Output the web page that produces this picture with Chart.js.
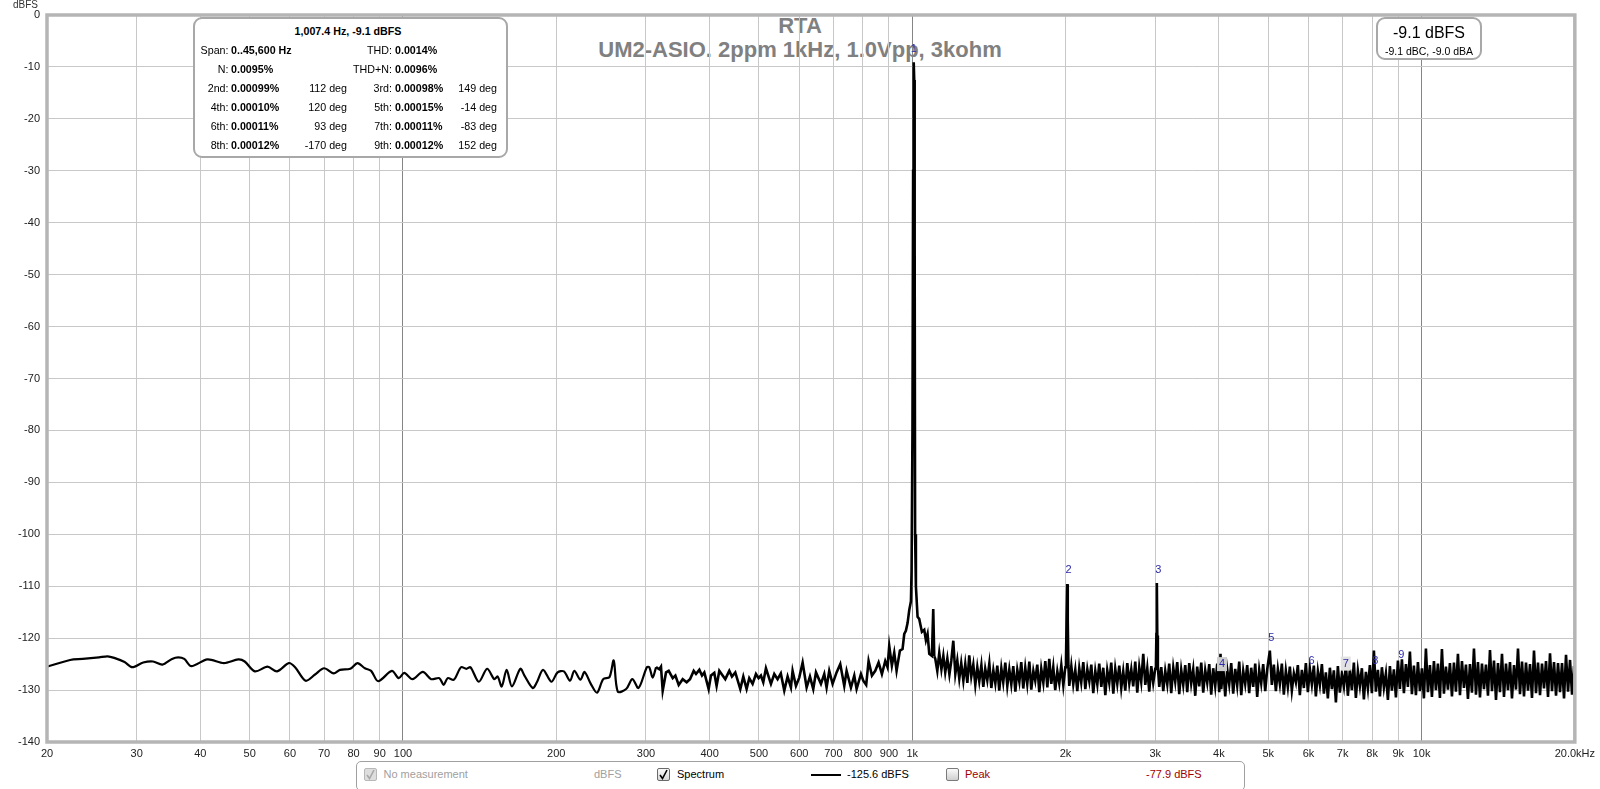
<!DOCTYPE html>
<html><head><meta charset="utf-8">
<script src="https://cdn.jsdelivr.net/npm/chart.js@4.4.1/dist/chart.umd.min.js"></script>
<style>
html,body{margin:0;padding:0;background:#fff;}
#wrap{position:relative;width:1600px;height:789px;overflow:hidden;font-family:'Liberation Sans',Arial,sans-serif;}
#c{position:absolute;left:0;top:0;z-index:1;}
.t{position:absolute;white-space:nowrap;z-index:3;}
.tb{position:absolute;white-space:nowrap;z-index:0;}
.box{position:absolute;box-sizing:border-box;background:#fff;z-index:2;}
.cb{position:absolute;box-sizing:border-box;width:13px;height:13px;border-radius:2px;z-index:3;}
</style></head><body>
<div id="wrap">
<div class="tb" style="left:0;width:1600px;text-align:center;top:15.4px;font:bold 22px/22px 'Liberation Sans',Arial,sans-serif;color:#808080">RTA</div>
<div class="tb" style="left:0;width:1600px;text-align:center;top:38.7px;font:bold 22px/22px 'Liberation Sans',Arial,sans-serif;color:#808080">UM2-ASIO. 2ppm 1kHz, 1.0Vpp, 3kohm</div>
<canvas id="c" width="1600" height="789"></canvas>
<div class="t" style="left:13px;top:0px;font:10px/10px 'Liberation Sans',Arial,sans-serif;color:#333">dBFS</div>
<div class="box" style="left:193px;top:17px;width:315px;height:141px;border:2.5px solid #a8a8a8;border-radius:9px;"></div>
<div id="info"></div>
<div class="box" style="left:1376px;top:17px;width:106px;height:43px;border:2.5px solid #a8a8a8;border-radius:9px;"></div>
<div class="t" style="left:1329px;width:200px;text-align:center;top:25px;font:16px/16px 'Liberation Sans',Arial,sans-serif;color:#000">-9.1 dBFS</div>
<div class="t" style="left:1329px;width:200px;text-align:center;top:45.6px;font:10.5px/10.5px 'Liberation Sans',Arial,sans-serif;color:#000">-9.1 dBC, -9.0 dBA</div>
<div class="box" style="left:356px;top:761px;width:889px;height:30px;border:1px solid #a0a0a0;border-radius:5px;"></div>
<div class="cb" style="left:364px;top:768px;background:#dedede;border:1px solid #b8b8b8;"><svg width="11" height="11" style="position:absolute;left:0;top:0"><path d="M2 6 L4.5 9.5 L9 1" stroke="#a8a8a8" stroke-width="1.6" fill="none"/></svg></div>
<div class="t" style="left:383.5px;top:768.7px;font:11px/11px 'Liberation Sans',Arial,sans-serif;color:#a0a0a0">No measurement</div>
<div class="t" style="left:594px;top:768.7px;font:11px/11px 'Liberation Sans',Arial,sans-serif;color:#a0a0a0">dBFS</div>
<div class="cb" style="left:657px;top:768px;background:linear-gradient(#fafafa,#d8d8d8);border:1px solid #6a6a6a;"><svg width="11" height="11" style="position:absolute;left:0;top:0"><path d="M2 6 L4.5 9.5 L9 1" stroke="#000" stroke-width="1.6" fill="none"/></svg></div>
<div class="t" style="left:677px;top:768.7px;font:11px/11px 'Liberation Sans',Arial,sans-serif;color:#000">Spectrum</div>
<div class="t" style="left:811px;top:774px;width:30px;height:2px;background:#000"></div>
<div class="t" style="left:847px;top:768.7px;font:11px/11px 'Liberation Sans',Arial,sans-serif;color:#000">-125.6 dBFS</div>
<div class="cb" style="left:946px;top:768px;background:linear-gradient(#fafafa,#cfcfcf);border:1px solid #7a7a7a;"></div>
<div class="t" style="left:965px;top:768.7px;font:11px/11px 'Liberation Sans',Arial,sans-serif;color:#a00000">Peak</div>
<div class="t" style="left:1146px;top:768.7px;font:11px/11px 'Liberation Sans',Arial,sans-serif;color:#a00000">-77.9 dBFS</div>
</div>
<script>
// ---------- data ----------
const freqLow=[20,22.2,23.5,25.3,26.3,27.1,28.4,29.4,30.9,32.3,33.7,35.2,36.2,37.2,38.4,41.3,44.5,47.5,48.9,51.2,54.2,56.6,59.7,61.4,64.4,67.2,70.0,73.1,75.2,78.8,81.4,84.2,86.6,89.4,95.1,98.1,100.6,104.4,109.4,113.6,117.9,120.2,122.4,125.9,130.0,133.2,135.7,140.9,146.3,151.1,153.4,156.3,159.8,163.7,170.0,173.2,179.8,183.2,188.4,195.6,201.2,207.0,212.9,217.0,223.1,227.3,233.8,240.5,247.3,254.4,259.3,264.1,274.3,282.1,290.1,301.2,304.6,309.2,314.0];
const dbLow=[-125.5,-124.2,-124.0,-123.7,-123.5,-123.8,-124.6,-125.6,-124.7,-124.5,-125.1,-124.0,-123.7,-124.0,-125.4,-124.1,-124.8,-124.1,-124.5,-126.4,-125.5,-126.4,-124.8,-125.6,-128.2,-127.0,-125.8,-126.8,-126.1,-125.9,-124.8,-125.8,-126.3,-128.3,-126.3,-127.7,-126.7,-127.9,-126.5,-127.9,-127.7,-129.0,-127.7,-128.0,-125.6,-125.9,-125.6,-128.4,-125.9,-127.9,-127.4,-129.3,-126.1,-129.3,-125.9,-127.2,-129.6,-128.5,-126.1,-128.4,-126.6,-126.4,-128.2,-126.3,-128.0,-126.5,-128.8,-130.5,-127.9,-127.5,-124.3,-130.3,-129.8,-127.9,-129.6,-125.6,-125.6,-127.6,-125.6];

const freqMid=[318.7,321.1,323.6,328.5,332.5,338.6,342.7,347.9,354.2,360.6,366.1,372.3,376.2,381.9,386.5,390.6,398.3,402.5,408.6,412.9,418.0,424.3,429.4,437.3,442.6,449.3,459.6,465.9,472.9,478.6,485.9,493.3,499.2,504.5,509.9,516.1,527.9,535.9,544.0,552.0,560.7,569.2,577.8,582.2,591.1,600.0,609.2,620.3,629.7,639.2,647.1,661.8,671.8,678.9,687.1,697.6,710.3,722.2,735.4,743.2,757.9,769.4,777.6,793.0,801.4,812.0,820.9,833.4,846.0,858.9,871.9,885.1,894.4,901.2,912.0,921.8,931.6,945.7,957.2];
const dbMid=[-126.0,-125.5,-130.1,-126.6,-126.3,-127.7,-127.2,-129.0,-127.9,-128.5,-127.9,-126.3,-126.9,-126.1,-127.2,-126.6,-129.8,-127.2,-126.7,-129.2,-126.3,-127.2,-127.9,-126.3,-127.4,-126.6,-129.8,-127.4,-129.8,-127.7,-128.8,-126.9,-127.7,-127.2,-128.5,-125.8,-128.8,-126.9,-127.9,-126.8,-130.1,-127.4,-129.5,-126.3,-129.2,-127.6,-124.7,-129.5,-127.4,-129.8,-126.6,-128.8,-126.9,-129.5,-126.3,-128.8,-126.6,-125.0,-129.2,-126.3,-129.5,-127.2,-129.8,-126.9,-128.2,-129.0,-124.4,-127.2,-126.3,-124.7,-126.9,-124.4,-125.6,-121.5,-125.3,-122.8,-126.3,-122.4,-122.1];

const freqPeak=[964.5,971.6,979.1,986.5,994.1,997.0,1001.0,1004.0,1006.0,1007.4,1009.0,1011.0,1013.0,1016.7,1024.4,1032.0,1044.7,1055.8,1063.7,1071.7,1080.0,1093.0,1099.6,1104.6];
const dbPeak=[-119.2,-118.6,-117.1,-114.6,-112.9,-107.0,-80.0,-30.0,-12.0,-9.1,-12.5,-45.0,-100.0,-110.0,-115.9,-116.3,-118.8,-118.4,-120.4,-119.2,-123.0,-123.4,-114.4,-123.5];

const freqHigh=[1110,1120,1130,1141,1151,1161,1172,1183,1193,1204,1215,1226,1237,1248,1260,1271,1283,1294,1306,1318,1330,1342,1354,1367,1379,1391,1404,1417,1430,1443,1456,1469,1482,1496,1509,1523,1537,1551,1565,1579,1594,1608,1623,1637,1652,1667,1682,1698,1713,1729,1744,1760,1776,1792,1809,1825,1842,1858,1875,1892,1909,1927,1944,1962,1980,1998,
2004,2010,2015,2020,2026,
2034,2053,2071,2090,2109,2128,2147,2167,2187,2207,2227,2247,2267,2288,2309,2329,2351,2372,2394,2415,2437,2459,2482,2504,2527,2550,2573,2596,2620,2644,2668,2692,2716,2741,2766,2791,2816,2842,2868,2894,2920,2947,2973,3000,
3010,3016,3022,3028,3036,
3055,3083,3111,3139,3168,3196,3225,3255,3284,3314,3344,3374,3405,3436,3467,3499,3530,3562,3595,3627,3660,3694,3727,3761,3795,3830,3864,3899,3935,3971,4007,4030,4043,4080,4117,4154,4192,4230,4268,4307,4346,4386,4426,4466,4506,4547,4588,4630,4672,4715,4757,4801,4844,4888,4933,4977];
const dbHigh=[-124.0,-126.3,-122.8,-126.0,-123.4,-126.6,-123.9,-127.0,-124.4,-120.5,-126.9,-124.3,-127.8,-124.8,-128.2,-125.0,-128.6,-123.3,-127.4,-125.1,-129.0,-125.6,-128.3,-125.2,-129.4,-125.9,-128.1,-124.9,-129.6,-126.2,-128.7,-125.3,-130.1,-125.8,-128.5,-124.7,-129.2,-126.0,-128.9,-125.4,-130.3,-126.1,-128.4,-124.6,-129.7,-125.7,-128.8,-124.5,-129.9,-126.3,-128.2,-125.1,-130.4,-125.9,-128.6,-124.4,-129.5,-124.0,-128.8,-125.6,-130.0,-126.4,-128.7,-125.2,-129.1,-125.6,
-124.5,-115.4,-109.6,-116.5,-125.3,
-129.2,-125.4,-128.9,-126.1,-130.2,-125.8,-128.5,-124.6,-129.8,-126.0,-128.3,-125.1,-130.6,-126.3,-128.9,-124.9,-129.4,-125.7,-131.0,-126.2,-128.6,-124.7,-130.7,-125.9,-128.8,-125.3,-129.6,-126.4,-130.1,-124.8,-128.7,-126.0,-129.3,-124.5,-130.5,-125.6,-128.4,-123.0,-129.0,-125.8,-130.3,-125.4,-128.6,-125.9,
-124.8,-119.2,-109.4,-119.5,-125.5,
-129.4,-125.6,-130.2,-126.3,-128.9,-124.9,-130.6,-125.7,-128.4,-124.6,-130.8,-126.1,-129.0,-125.2,-130.4,-124.8,-128.7,-126.0,-131.1,-125.5,-129.3,-124.7,-130.5,-126.2,-128.6,-125.0,-130.9,-125.8,-129.2,-124.9,-130.4,-123.0,-129.8,-125.6,-131.2,-126.0,-128.9,-124.8,-130.7,-125.9,-129.1,-124.5,-131.0,-126.3,-128.8,-125.2,-130.6,-125.7,-129.4,-124.9,-131.3,-126.1,-128.7,-125.0,-130.2,-126.0];

const freqTop=[5037,5083,5129,5176,5223,5270,5318,5366,5415,5464,5514,5564,5615,5666,5717,5769,5822,5875,5928,5982,6036,6091,6146,6202,6259,6315,6373,6431,6489,6548,6608,6668,6728,6790,6851,6913,6976,7040,7104,7168,7233,7299,7365,7432,7500,7568,7637,7706,7776,7847,7918,7990,8063,8136,8210,8285,8360,8436,8513,8590,8668,8747,8826,8907,8988,9069,9152,9235,9319,9403,9489,9575,9662,9750,9839,9928,10018,10109,10201,10294,10388,10482,10577,10673,10770,10868,10967,11067,11167,11269,11371,11475,11579,11684,11790,11898,12006,12115,12225,12336,12448,12562,12676,12791,12907,13025,13143,13263,13383,13505,13628,13752,13877,14003,14130,14258,14388,14519,14651,14784,14918,15054,15191,15329,15468,15609,15751,15894,16038,16184,16331,16479,16629,16780,16933,17087,17242,17399,17557,17717,17878,18040,18204,18370,18537,18705,18875,19047,19220,19395,19571,19749,19928,20000];
const dbTop=[-122.4,-129.0,-125.1,-130.2,-126.0,-128.8,-124.9,-130.9,-126.3,-129.4,-125.5,-130.1,-126.8,-128.5,-125.2,-131.0,-126.1,-129.6,-124.8,-130.4,-125.9,-128.9,-125.3,-131.2,-126.4,-129.0,-125.0,-130.7,-126.6,-131.6,-125.7,-129.8,-126.2,-132.4,-125.4,-130.5,-126.9,-129.3,-125.1,-131.1,-126.0,-130.0,-124.7,-131.5,-126.3,-129.2,-125.8,-131.8,-126.5,-129.7,-125.2,-130.6,-122.4,-130.3,-126.1,-131.2,-125.6,-129.5,-126.8,-131.9,-125.4,-130.1,-126.0,-131.4,-124.3,-129.8,-124.1,-130.6,-125.0,-129.4,-122.6,-130.8,-125.3,-131.0,-124.6,-130.2,-125.8,-131.6,-122.0,-130.4,-125.2,-131.3,-124.4,-130.0,-124.9,-131.5,-122.1,-130.7,-125.5,-129.9,-124.8,-131.2,-124.7,-130.3,-123.0,-131.0,-124.4,-129.6,-125.1,-131.7,-125.0,-130.5,-122.0,-130.9,-124.6,-131.4,-124.9,-129.8,-125.1,-131.1,-122.3,-130.2,-124.3,-131.9,-124.8,-130.4,-123.0,-131.3,-124.9,-130.0,-124.6,-131.6,-125.2,-129.9,-122.0,-130.8,-124.5,-131.2,-124.7,-130.1,-125.0,-131.5,-122.4,-130.6,-124.7,-131.0,-124.9,-129.7,-124.4,-131.3,-122.9,-130.2,-124.6,-131.1,-124.8,-130.4,-124.8,-131.6,-123.2,-130.3,-124.2,-130.9,-125.4,-127.5];

const xTickValues=[20,30,40,50,60,70,80,90,100,200,300,400,500,600,700,800,900,1000,2000,3000,4000,5000,6000,7000,8000,9000,10000,20000];
const xTickLabels=['20','30','40','50','60','70','80','90','100','200','300','400','500','600','700','800','900','1k','2k','3k','4k','5k','6k','7k','8k','9k','10k','20.0kHz'];
const xMajorTicks=[100,1000,10000];
const yTickValues=[-140,-130,-120,-110,-100,-90,-80,-70,-60,-50,-40,-30,-20,-10,0];
const yTickLabels=['-140','-130','-120','-110','-100','-90','-80','-70','-60','-50','-40','-30','-20','-10','0'];

const harmonicFreqs=[1007.4,2014.8,3022.2,4029.6,5037.0,6044.4,7051.8,8059.2,9066.6];
const harmonicLabelDb=[-6.5,-106.9,-106.8,-125.0,-119.9,-124.3,-124.9,-124.3,-123.3];
const harmonicNames=['1','2','3','4','5','6','7','8','9'];
const harmonicBg=['','','','#cdcdcd','','','#e2e2e2','',''];

const infoRows=[
 ['Span:','0..45,600 Hz','','THD:','0.0014%',''],
 ['N:','0.0095%','','THD+N:','0.0096%',''],
 ['2nd:','0.00099%','112 deg','3rd:','0.00098%','149 deg'],
 ['4th:','0.00010%','120 deg','5th:','0.00015%','-14 deg'],
 ['6th:','0.00011%','93 deg','7th:','0.00011%','-83 deg'],
 ['8th:','0.00012%','-170 deg','9th:','0.00012%','152 deg']
];

(function(){
  const info=document.getElementById('info');
  const F="'Liberation Sans',Arial,sans-serif";
  let h='<div class="t" style="left:248px;width:200px;text-align:center;top:25.6px;font:bold 10.7px/10.7px '+F+';color:#000">1,007.4 Hz, -9.1 dBFS</div>';
  infoRows.forEach((r,i)=>{
    const top=(45.2+19*i).toFixed(1);
    const sR='font:10.7px/10.7px '+F+';color:#000;top:'+top+'px;';
    const sB='font:bold 10.7px/10.7px '+F+';color:#000;top:'+top+'px;';
    h+='<div class="t" style="'+sR+'left:128.5px;width:100px;text-align:right">'+r[0]+'</div>';
    h+='<div class="t" style="'+sB+'left:231px">'+r[1]+'</div>';
    if(r[2]) h+='<div class="t" style="'+sR+'left:247px;width:100px;text-align:right">'+r[2]+'</div>';
    h+='<div class="t" style="'+sR+'left:292px;width:100px;text-align:right">'+r[3]+'</div>';
    h+='<div class="t" style="'+sB+'left:395px">'+r[4]+'</div>';
    if(r[5]) h+='<div class="t" style="'+sR+'left:397px;width:100px;text-align:right">'+r[5]+'</div>';
  });
  info.innerHTML=h;
})();

// ---------- chart ----------
const zip=(f,d)=>f.map((v,i)=>({x:v,y:d[i]}));
const lowPts=zip(freqLow,dbLow);
const midPts=[lowPts[lowPts.length-1]].concat(zip(freqMid,dbMid),zip(freqPeak,dbPeak));
const highPts=[midPts[midPts.length-1]].concat(zip(freqHigh,dbHigh),zip(freqTop,dbTop));
const FONT="'Liberation Sans', Arial, sans-serif";

const framePlugin={
  id:'frame',
  afterDatasetsDraw(chart){
    const {ctx,chartArea:a,scales}=chart;
    ctx.save();
    ctx.strokeStyle='#b5b5b5';ctx.lineWidth=3.5;
    ctx.strokeRect(a.left,a.top,a.right-a.left,a.bottom-a.top);
    ctx.font='11px '+FONT;ctx.textAlign='center';ctx.textBaseline='middle';
    harmonicNames.forEach((n,i)=>{
      const x=scales.x.getPixelForValue(harmonicFreqs[i])+(i===0?0:1.5);
      const y=scales.y.getPixelForValue(harmonicLabelDb[i]);
      if(harmonicBg[i]){ctx.fillStyle=harmonicBg[i];ctx.fillRect(x-5,y-7,10,14);}
      ctx.fillStyle='#2b2ba8';ctx.fillText(n,x,y);
    });
    ctx.restore();
  }
};

new Chart(document.getElementById('c'),{
  type:'line',
  data:{datasets:[
    {data:lowPts,borderColor:'#000',borderWidth:2.2,pointRadius:0,tension:0.3,fill:false},
    {data:midPts,borderColor:'#000',borderWidth:2.6,pointRadius:0,tension:0,fill:false},
    {data:highPts,borderColor:'#000',borderWidth:2.6,pointRadius:0,tension:0,fill:false}
  ]},
  options:{
    responsive:false,animation:false,devicePixelRatio:1,parsing:false,normalized:true,
    layout:{padding:{top:15,right:23,left:0,bottom:0}},
    plugins:{legend:{display:false},tooltip:{enabled:false},title:{display:false}},
    scales:{
      x:{type:'logarithmic',min:20,max:20000,
        afterBuildTicks:s=>{s.ticks=xTickValues.map(v=>({value:v}));},
        afterFit:s=>{s.height=47;},
        ticks:{autoSkip:false,maxRotation:0,minRotation:0,padding:5,color:'#222',font:{family:FONT,size:11},
          callback:(v)=>{const i=xTickValues.indexOf(v);return i>=0?xTickLabels[i]:'';}},
        grid:{drawTicks:false,lineWidth:1,color:c=>(c.tick&&xMajorTicks.includes(c.tick.value))?'#858585':'#c8c8c8'},
        border:{display:false}},
      y:{type:'linear',min:-140,max:0,
        afterBuildTicks:s=>{s.ticks=yTickValues.map(v=>({value:v}));},
        afterFit:s=>{s.width=47;},
        ticks:{padding:7,color:'#222',font:{family:FONT,size:11},
          callback:(v)=>{const i=yTickValues.indexOf(v);return i>=0?yTickLabels[i]:'';}},
        grid:{drawTicks:false,lineWidth:1,color:'#c8c8c8'},
        border:{display:false}}
    }
  },
  plugins:[framePlugin]
});
</script>
</body></html>
